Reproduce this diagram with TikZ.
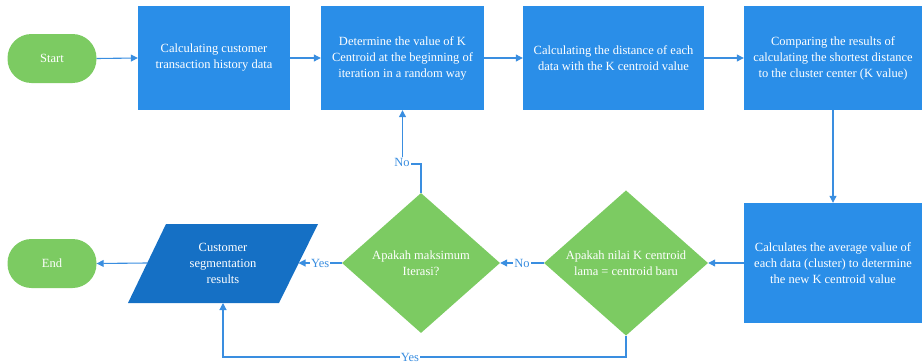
\documentclass[tikz,border=0pt]{standalone}
\usepackage{fontspec}
\setmainfont{Liberation Serif}
\usetikzlibrary{shapes.geometric,arrows.meta}
\definecolor{boxblue}{HTML}{2A8EE8}
\definecolor{parblue}{HTML}{1570C5}
\definecolor{termgreen}{HTML}{7CCB62}
\definecolor{lineblue}{HTML}{3A8EE0}
\begin{document}
\begin{tikzpicture}[x=1pt,y=-1pt,
  txt/.style={text=white, align=center, font=\fontsize{12.5}{16}\selectfont},
  procbox/.style={txt, fill=boxblue, inner sep=0pt, minimum width=#1},
  procbox/.default=152pt,
  term/.style={txt, fill=termgreen, rounded corners=24pt, minimum width=89pt, minimum height=49pt, inner sep=0pt},
  decision/.style={txt, diamond, fill=termgreen, inner sep=0pt, minimum width=158pt, minimum height=140pt},
  conn/.style={draw=lineblue, line width=1.1pt, -{Triangle[length=7pt,width=7pt]}},
  lab/.style={fill=white, text=lineblue, font=\fontsize{12.5}{13}\selectfont, inner sep=1pt}
]
\useasboundingbox (0,0) rectangle (924,364);

% top row
\node[term] (start) at (52,58.5) {Start};
\node[procbox=152pt, minimum height=104pt] (b1) at (214,58) {Calculating customer\\transaction history data};
\node[procbox=163pt, minimum height=104pt] (b2) at (402.5,58) {Determine the value of K\\Centroid at the beginning of\\iteration in a random way};
\node[procbox=181pt, minimum height=104pt] (b3) at (613.5,58) {Calculating the distance of each\\data with the K centroid value};
\node[procbox=178pt, minimum height=104pt] (b4) at (833,58) {Comparing the results of\\calculating the shortest distance\\to the cluster center (K value)};

% bottom row
\node[procbox=178pt, minimum height=120pt] (b5) at (833,263) {Calculates the average value of\\each data (cluster) to determine\\the new K centroid value};
\node[decision, minimum width=164pt, minimum height=136pt] (d2) at (626,263) {Apakah nilai K centroid\\lama = centroid baru};
\node[decision] (d1) at (421,263) {Apakah maksimum\\Iterasi?};
\fill[parblue] (128,303) -- (166,224) -- (318,224) -- (279,303) -- cycle;
\node[txt] (par) at (223,263) {Customer\\segmentation\\results};
\coordinate (pL) at (147.5,263);
\coordinate (pR) at (298.5,263);
\coordinate (pB) at (223,303);
\node[term] (end) at (52,263.5) {End};

% connectors
\draw[conn] (start.east) -- (b1.west);
\draw[conn] (b1.east) -- (b2.west);
\draw[conn] (b2.east) -- (b3.west);
\draw[conn] (b3.east) -- (b4.west);
\draw[conn] (b4.south) -- (b5.north);
\draw[conn] (b5.west) -- (d2.east);
\draw[conn] (d2.west) -- node[lab] {No} (d1.east);
\draw[conn] (d1.west) -- node[lab] {Yes} (pR);
\draw[conn] (d1.north) -- (421,164) -- (402.5,164) -- (b2.south);
\node[lab] (no1) at (402,162) {No};
\draw[conn] (d2.south) -- (626,357) -- (223,357) -- (pB);
\node[lab] (yes2) at (410,357) {Yes};
\draw[conn] (pL) -- (end.east);
\end{tikzpicture}
\end{document}
